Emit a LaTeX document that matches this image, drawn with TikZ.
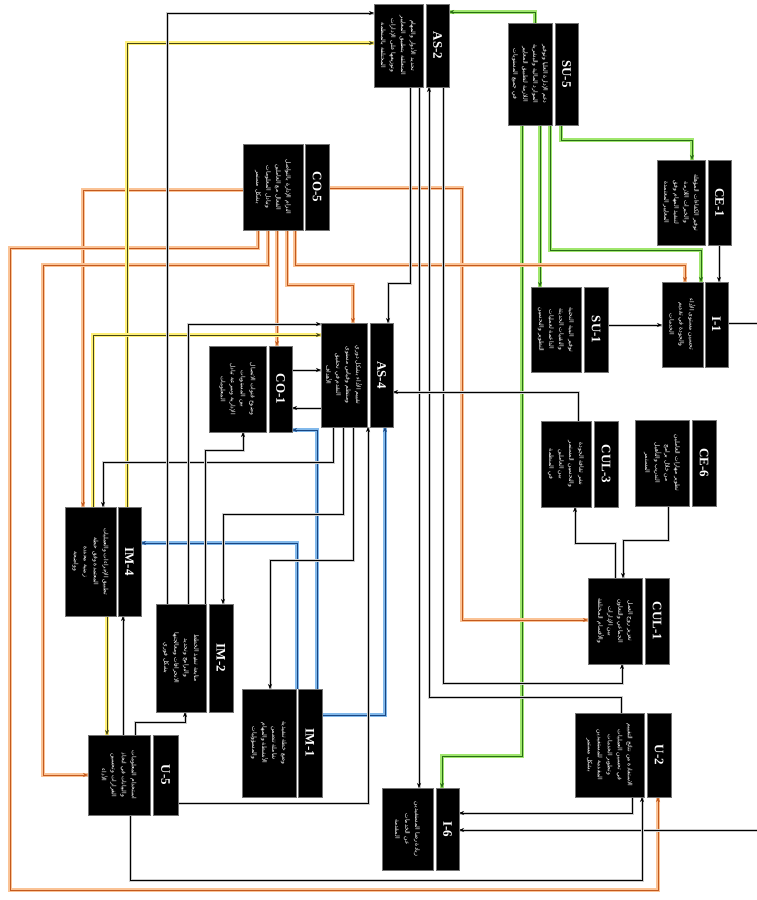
\documentclass[tikz,border=0pt]{standalone}
\usepackage{fontspec}
\setmainfont{Liberation Serif}
\newfontfamily\arabicfont[Script=Arabic]{DejaVu Sans}
\TeXXeTstate=1
\usetikzlibrary{arrows.meta}
\pgfdeclarelayer{bg}
\pgfsetlayers{bg,main}
\newcommand\rl[1]{\beginR #1\endR}
\definecolor{orM}{RGB}{195,90,30}
\definecolor{orH}{RGB}{250,195,150}
\definecolor{grM}{RGB}{40,110,20}
\definecolor{grH}{RGB}{160,230,110}
\definecolor{blM}{RGB}{25,70,130}
\definecolor{blH}{RGB}{130,185,235}
\definecolor{yeM}{RGB}{70,70,20}
\definecolor{yeH}{RGB}{255,240,120}
\tikzset{
 bodybox/.style={fill=black, draw=black!55, line width=0.4pt, anchor=north west, inner sep=0pt, outer sep=0pt},
 headtext/.style={text=white, font=\bfseries\fontsize{13}{13}\selectfont, rotate=-90, inner sep=0pt},
 arabtext/.style={text=white, font=\arabicfont\fontsize{6}{10}\selectfont, rotate=-90, align=center, inner sep=0pt},
 conn/.style={line width=0.8pt, -{Stealth[length=5pt,width=4pt]}},
 kline/.style={conn, draw=black, preaction={draw=black!20, line width=3pt, -}},
 oline/.style={conn, draw=orM, preaction={draw=orH, line width=3.6pt, -}},
 gline/.style={conn, draw=grM, preaction={draw=grH, line width=3.6pt, -}},
 bline/.style={conn, draw=blM, preaction={draw=blH, line width=3.6pt, -}},
 yline/.style={conn, draw=yeM, preaction={draw=yeH, line width=3.6pt, -}},
}
\newcommand\drawunit[8]{%
 \node[bodybox,minimum width=#4pt,minimum height=#5pt] (#1b) at (#2,#3) {};
 \node[bodybox,minimum width=#7pt,minimum height=#5pt] (#1h) at (#6,#3) {};
 \node[headtext] at (#1h.center) {#8};
}
\begin{document}
\begin{tikzpicture}[x=1pt,y=-1pt]
\begin{pgfonlayer}{bg}
\fill[white] (0,0) rectangle (757,900);
\end{pgfonlayer}
\useasboundingbox (0,0) rectangle (757,900);

% ---------- boxes ----------
\drawunit{AS2}{374}{4}{49}{83}{426}{23}{AS-2}
\drawunit{SU5}{508}{23}{44}{102}{555}{23}{SU-5}
\drawunit{CO5}{243}{144}{60}{86}{305}{24}{CO-5}
\drawunit{CE1}{657}{160}{48}{85}{708}{23}{CE-1}
\drawunit{SU1}{531}{287}{50}{85}{584}{24}{SU-1}
\drawunit{I1}{662}{282}{41}{85}{705}{23}{I-1}
\drawunit{CO1}{209}{346}{57}{86}{269}{23}{CO-1}
\drawunit{AS4}{321}{323}{46}{104}{370}{23}{AS-4}
\drawunit{CUL3}{541}{421}{50}{86}{594}{24}{CUL-3}
\drawunit{CE6}{635}{420}{54}{86}{692}{24}{CE-6}
\drawunit{IM4}{65}{507}{51}{109}{118}{23}{IM-4}
\drawunit{IM2}{156}{604}{50}{108}{209}{24}{IM-2}
\drawunit{CUL1}{588}{578}{54}{86}{645}{24}{CUL-1}
\drawunit{IM1}{242}{689}{54}{108}{298}{24}{IM-1}
\drawunit{U2}{575}{713}{69}{84}{647}{24}{U-2}
\drawunit{I6}{382}{788}{51}{82}{436}{23}{I-6}
\drawunit{U5}{88}{735}{62}{80}{153}{25}{U-5}

% ---------- texts ----------
\node[arabtext] (tAS2) at (AS2b.center) {\rl{تحديد الأدوار والمهام}\\\rl{المتعلقة بتطبيق المعايير}\\\rl{وتوزيعها على الإدارات}\\\rl{المختلفة بالمنظمة}};
\node[arabtext] (tSU5) at (SU5b.center) {\rl{دعم الإدارة العليا وتوفير}\\\rl{الموارد المالية والبشرية}\\\rl{اللازمة لتطبيق المعايير}\\\rl{في جميع المستويات}};
\node[arabtext] (tCO5) at (CO5b.center) {\rl{التزام الإدارة بالتواصل}\\\rl{الفعال مع العاملين}\\\rl{وتبادل المعلومات}\\\rl{بشكل مستمر}};
\node[arabtext] (tCE1) at (CE1b.center) {\rl{توفير الكفاءات المؤهلة}\\\rl{والخبرات اللازمة}\\\rl{لتنفيذ المهام وفق}\\\rl{المعايير المعتمدة}};
\node[arabtext] (tSU1) at (SU1b.center) {\rl{توفير البنية التحتية}\\\rl{والتقنيات الحديثة}\\\rl{الداعمة لعمليات}\\\rl{التطوير والتحسين}};
\node[arabtext] (tI1) at (I1b.center) {\rl{تحسين مستوى الأداء}\\\rl{والجودة في تقديم}\\\rl{الخدمات}};
\node[arabtext] (tCO1) at (CO1b.center) {\rl{وضوح قنوات الاتصال}\\\rl{بين المستويات}\\\rl{الإدارية وسرعة تبادل}\\\rl{المعلومات}};
\node[arabtext] (tAS4) at (AS4b.center) {\rl{تقييم الأداء بشكل دوري}\\\rl{ومنتظم وقياس مستوى}\\\rl{التقدم في تحقيق}\\\rl{الأهداف}};
\node[arabtext] (tCUL3) at (CUL3b.center) {\rl{نشر ثقافة الجودة}\\\rl{والتحسين المستمر}\\\rl{بين العاملين}\\\rl{في المنظمة}};
\node[arabtext] (tCE6) at (CE6b.center) {\rl{تطوير مهارات العاملين}\\\rl{من خلال برامج}\\\rl{التدريب والتأهيل}\\\rl{المستمر}};
\node[arabtext] (tIM4) at (IM4b.center) {\rl{تطبيق الإجراءات والعمليات}\\\rl{المعتمدة وفق خطة}\\\rl{زمنية محددة}\\\rl{وواضحة}};
\node[arabtext] (tIM2) at (IM2b.center) {\rl{متابعة تنفيذ الخطط}\\\rl{والبرامج وتحديد}\\\rl{الانحرافات ومعالجتها}\\\rl{بشكل فوري}};
\node[arabtext] (tCUL1) at (CUL1b.center) {\rl{تعزيز روح العمل}\\\rl{الجماعي والتعاون}\\\rl{بين الإدارات}\\\rl{والأقسام المختلفة}};
\node[arabtext] (tIM1) at (IM1b.center) {\rl{وضع خطة تنفيذية}\\\rl{شاملة تتضمن}\\\rl{الأنشطة والمهام}\\\rl{والمسؤوليات}};
\node[arabtext] (tU2) at (U2b.center) {\rl{الاستفادة من نتائج التقييم}\\\rl{في تحسين العمليات}\\\rl{وتطوير الخدمات}\\\rl{المقدمة للمستفيدين}\\\rl{بشكل مستمر}};
\node[arabtext] (tI6) at (I6b.center) {\rl{زيادة رضا المستفيدين}\\\rl{عن الخدمات}\\\rl{المقدمة}};
\node[arabtext] (tU5) at (U5b.center) {\rl{استخدام المعلومات}\\\rl{والبيانات في اتخاذ}\\\rl{القرارات وتحسين}\\\rl{الأداء}};

\coordinate (eR1) at (757,323);
\coordinate (eR2) at (757,830);

% ---------- connectors ----------
\begin{pgfonlayer}{bg}
% green
\draw[gline] (535,0 |- SU5b.north) -- (535,12) -- (AS2h.east |- 0,12);
\draw[gline] (522,0 |- SU5b.south) -- (522,756) -- (442,756) -- (442,0 |- I6h.north);
\draw[gline] (540,0 |- SU5b.south) -- (540,0 |- SU1b.north);
\draw[gline] (550,0 |- SU5b.south) -- (550,250) -- (701,250) -- (701,0 |- I1b.north);
\draw[gline] (561,0 |- SU5h.south) -- (561,140) -- (692,140) -- (692,0 |- CE1b.north);
% orange
\draw[oline] (CO5h.east |- 0,188) -- (462,188) -- (462,620) -- (CUL1b.west |- 0,620);
\draw[oline] (CO5b.west |- 0,190) -- (83,190) -- (83,0 |- IM4b.north);
\draw[oline] (258,0 |- CO5b.south) -- (258,248) -- (10,248) -- (10,890) -- (658,890) -- (658,0 |- U2h.south);
\draw[oline] (268,0 |- CO5b.south) -- (268,265) -- (43,265) -- (43,775) -- (U5b.west |- 0,775);
\draw[oline] (277,0 |- CO5b.south) -- (277,0 |- CO1h.north);
\draw[oline] (287,0 |- CO5b.south) -- (287,285) -- (353,285) -- (353,0 |- AS4b.north);
\draw[oline] (295,0 |- CO5b.south) -- (295,265) -- (685,265) -- (685,0 |- I1b.north);
% yellow
\draw[yline] (127,0 |- IM4h.north) -- (127,43) -- (AS2b.west |- 0,43);
\draw[yline] (93,0 |- IM4b.north) -- (93,335) -- (AS4b.west |- 0,335);
\draw[yline] (107,0 |- IM4b.south) -- (107,0 |- U5b.north);
% blue
\draw[bline] (297,0 |- IM1b.north) -- (297,543) -- (IM4h.east |- 0,543);
\draw[bline] (317,0 |- IM1h.north) -- (317,430) -- (CO1h.east |- 0,430);
\draw[bline] (IM1h.east |- 0,715) -- (385,715) -- (385,0 |- AS4h.south);
% black
\draw[kline] (719,0 |- CE1h.south) -- (719,0 |- I1h.north);
\draw[kline] (SU1h.east |- 0,325) -- (I1b.west |- 0,325);
\draw[kline,-] (I1h.east |- 0,323) -- (eR1);
\draw[kline] (eR2) -- (I6h.east |- 0,830);
\draw[kline] (632,0 |- U2b.south) -- (632,813) -- (I6h.east |- 0,813);
\draw[kline] (621,0 |- U2b.north) -- (621,697) -- (429,697) -- (429,0 |- AS2h.south);
\draw[kline] (443,0 |- AS2h.south) -- (443,683) -- (622,683) -- (622,0 |- CUL1b.south);
\draw[kline] (419,0 |- AS2b.south) -- (419,0 |- I6b.north);
\draw[kline] (410,0 |- AS2b.south) -- (410,283) -- (388,283) -- (388,0 |- AS4h.north);
\draw[kline] (578,0 |- CUL3b.north) -- (578,392) -- (AS4h.east |- 0,392);
\draw[kline] (615,0 |- CUL1b.north) -- (615,543) -- (575,543) -- (575,0 |- CUL3b.south);
\draw[kline] (668,0 |- CE6b.south) -- (668,540) -- (623,540) -- (623,0 |- CUL1b.north);
\draw[kline] (333,0 |- AS4b.south) -- (333,462) -- (103,462) -- (103,0 |- IM4b.north);
\draw[kline] (343,0 |- AS4b.south) -- (343,514) -- (223,514) -- (223,0 |- IM2h.north);
\draw[kline] (353,0 |- AS4b.south) -- (353,560) -- (270,560) -- (270,0 |- IM1b.north);
\draw[kline] (U5h.east |- 0,803) -- (368,803) -- (368,0 |- AS4b.south);
\draw[kline] (167,0 |- IM2b.north) -- (167,13) -- (AS2b.west |- 0,13);
\draw[kline] (188,0 |- IM2b.north) -- (188,324) -- (AS4b.west |- 0,324);
\draw[kline] (205,0 |- IM2b.north) -- (205,450) -- (243,450) -- (243,0 |- CO1b.south);
\draw[kline] (CO1h.east |- 0,370) -- (AS4b.west |- 0,370);
\draw[kline] (AS4b.west |- 0,408) -- (CO1h.east |- 0,408);
\draw[kline] (123,0 |- U5b.north) -- (123,0 |- IM4h.south);
\draw[kline] (135,0 |- U5b.north) -- (135,722) -- (185,722) -- (185,0 |- IM2b.south);
\draw[kline] (130,0 |- U5b.south) -- (130,880) -- (642,880) -- (642,0 |- U2b.south);
\end{pgfonlayer}
\end{tikzpicture}
\end{document}
